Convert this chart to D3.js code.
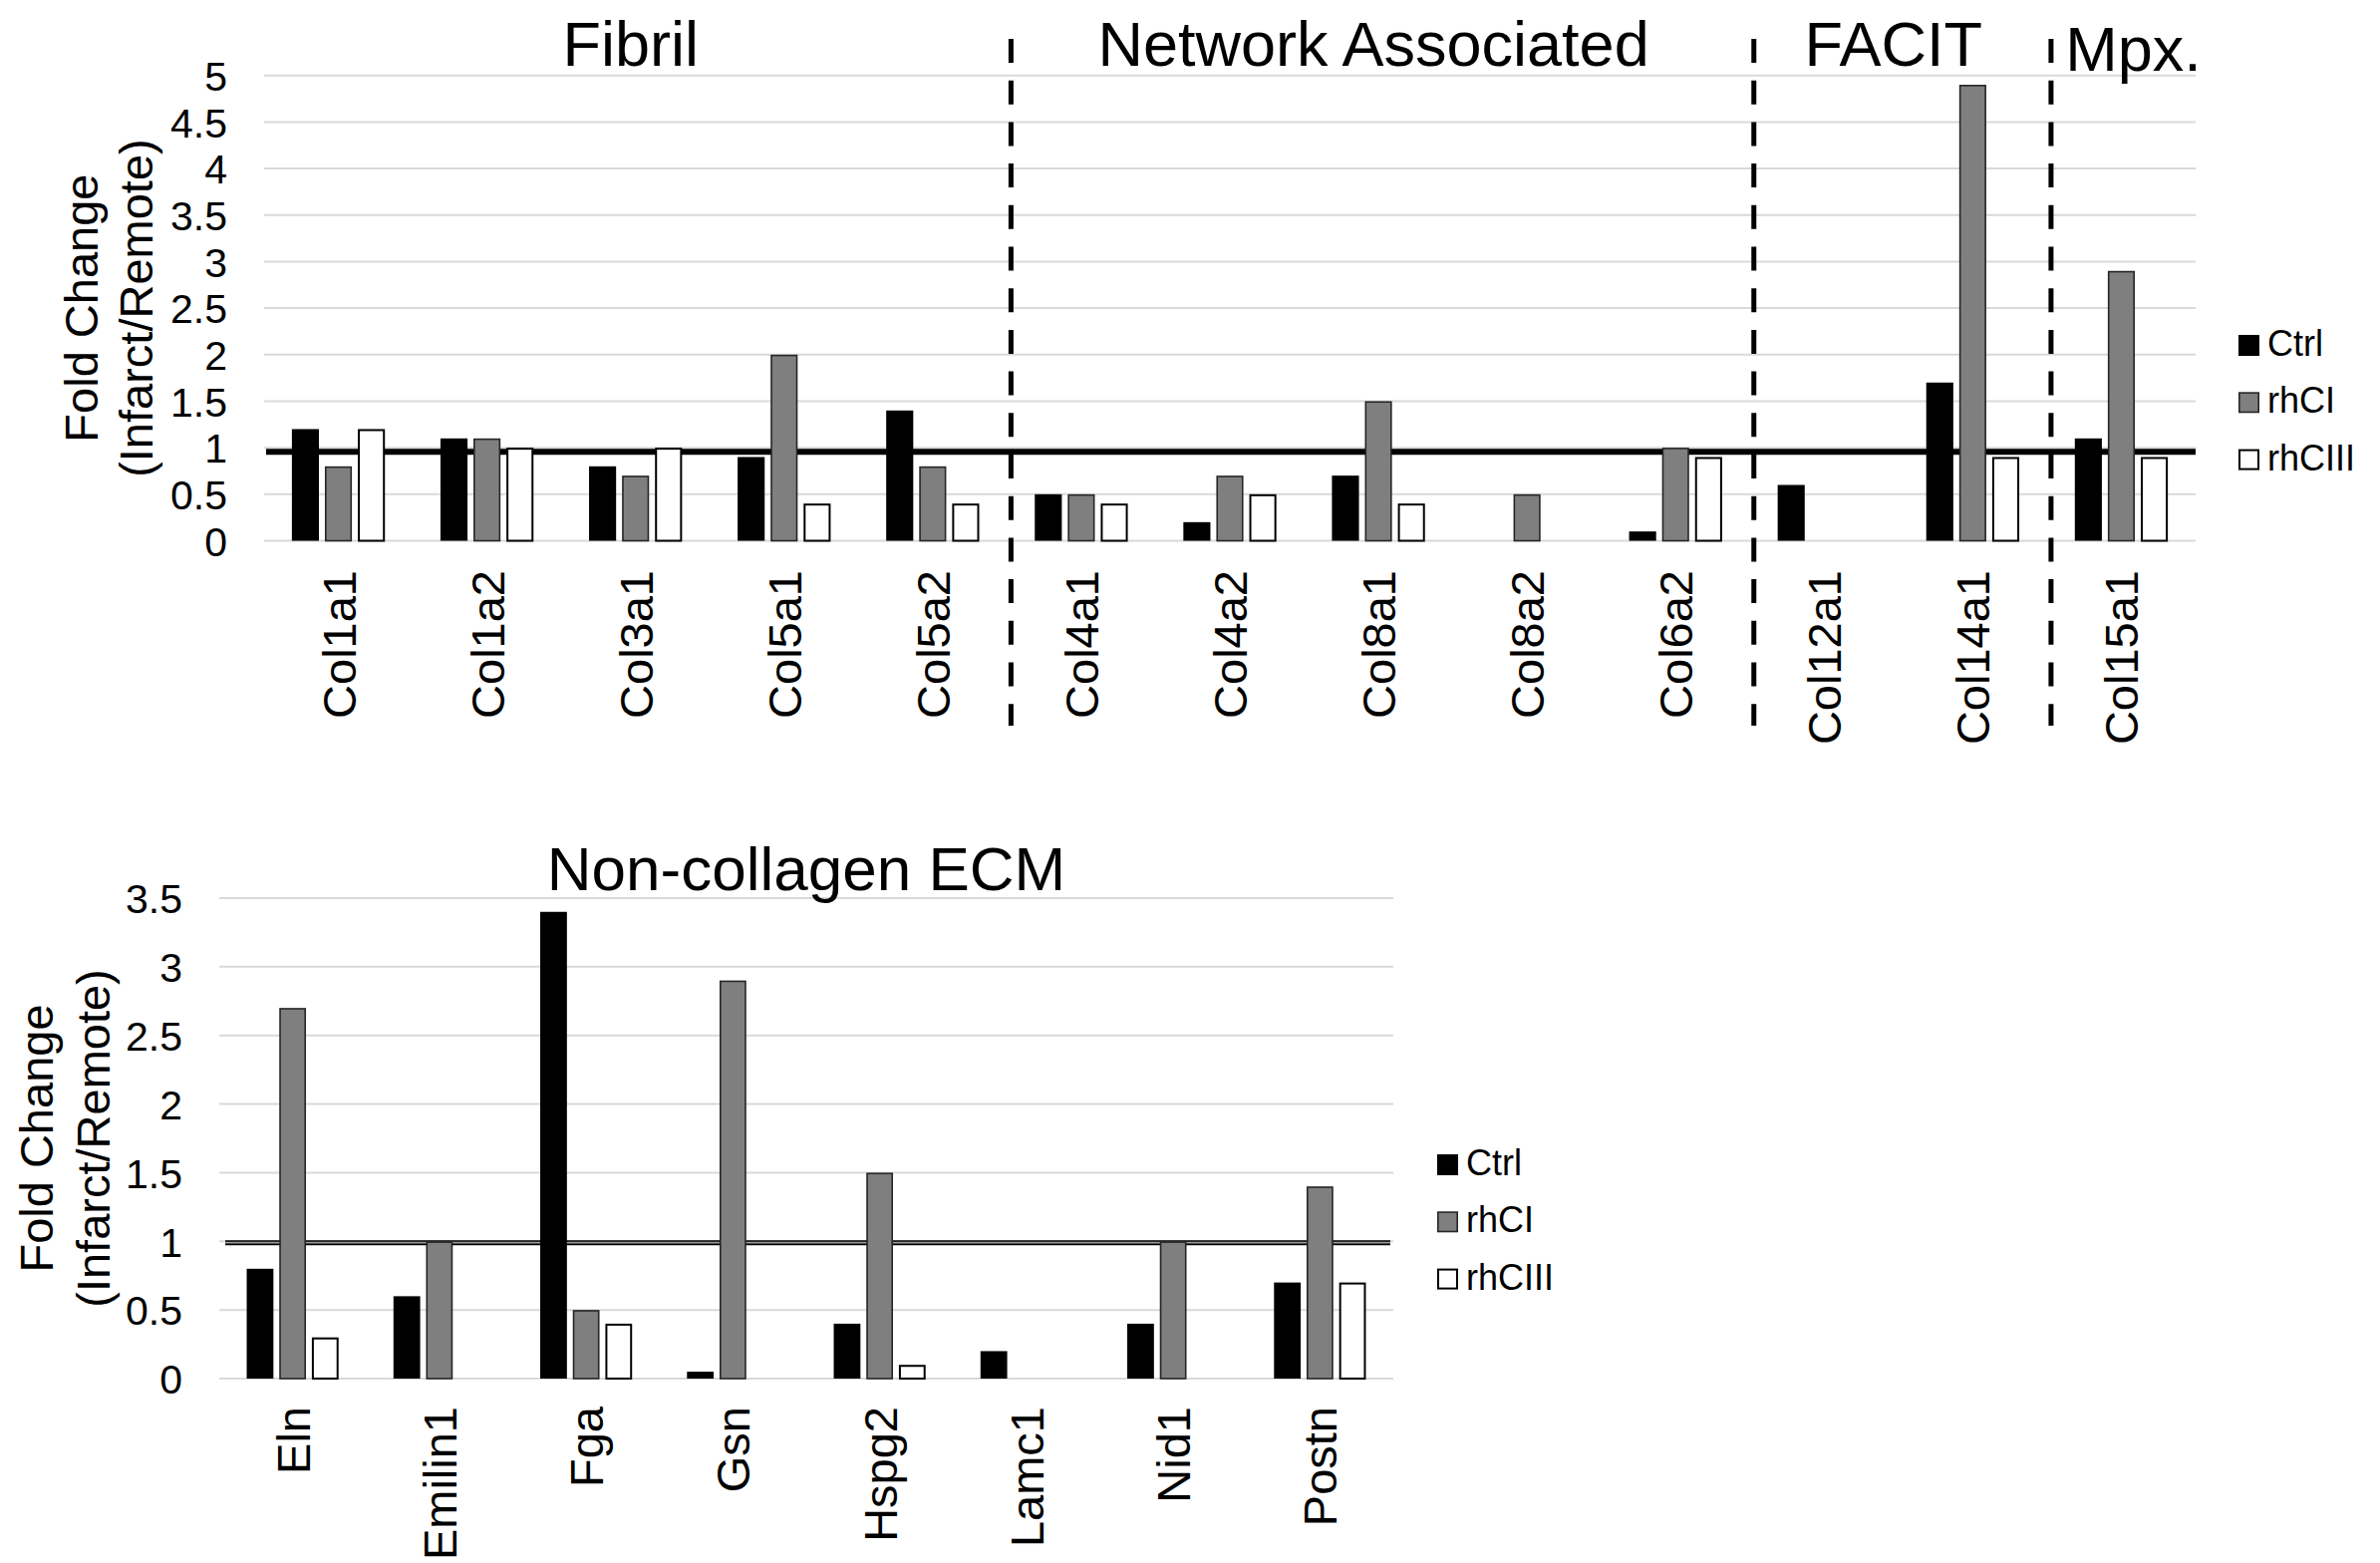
<!DOCTYPE html>
<html>
<head>
<meta charset="utf-8">
<script src="https://cdn.jsdelivr.net/npm/d3@7"></script>
<style>
  html, body { margin: 0; padding: 0; background: #fff; }
  svg { display: block; font-family: "Liberation Sans", Arial, sans-serif; }
</style>
</head>
<body>
<svg id="chart" width="2388" height="1568"></svg>
<script>
// ---- Collagen genes (upper panel) ----
const collagenGenes = ["Col1a1", "Col1a2", "Col3a1", "Col5a1", "Col5a2",
  "Col4a1", "Col4a2", "Col8a1", "Col8a2", "Col6a2",
  "Col12a1", "Col14a1", "Col15a1"];
const collagenCtrl  = [1.2, 1.1, 0.8, 0.9, 1.4, 0.5, 0.2, 0.7, null, 0.1, 0.6, 1.7, 1.1];
const collagenRhCI  = [0.8, 1.1, 0.7, 2.0, 0.8, 0.5, 0.7, 1.5, 0.5, 1.0, null, 4.9, 2.9];
const collagenRhCIII = [1.2, 1.0, 1.0, 0.4, 0.4, 0.4, 0.5, 0.4, null, 0.9, null, 0.9, 0.9];

// collagen families: title and the genes belonging to each
const familyNames = ["Fibril", "Network Associated", "FACIT", "Mpx."];
const familyFirstGene = ["Col1a1", "Col4a1", "Col12a1", "Col15a1"];
const familyLastGene  = ["Col5a2", "Col6a2", "Col14a1", "Col15a1"];

const collagenTicks = [0, 0.5, 1, 1.5, 2, 2.5, 3, 3.5, 4, 4.5, 5];
const collagenTickLabels = ["0", "0.5", "1", "1.5", "2", "2.5", "3", "3.5", "4", "4.5", "5"];
const collagenRefLevel = 0.955;

// ---- Non-collagen ECM genes (lower panel) ----
const ecmGenes = ["Eln", "Emilin1", "Fga", "Gsn", "Hspg2", "Lamc1", "Nid1", "Postn"];
const ecmCtrl   = [0.8, 0.6, 3.4, 0.05, 0.4, 0.2, 0.4, 0.7];
const ecmRhCI   = [2.7, 1.0, 0.5, 2.9, 1.5, null, 1.0, 1.4];
const ecmRhCIII = [0.3, null, 0.4, null, 0.1, null, null, 0.7];

const ecmTicks = [0, 0.5, 1, 1.5, 2, 2.5, 3, 3.5];
const ecmTickLabels = ["0", "0.5", "1", "1.5", "2", "2.5", "3", "3.5"];
const ecmRefLevel = 0.99;

const seriesNames = ["Ctrl", "rhCI", "rhCIII"];
const seriesFill   = ["#000000", "#7f7f7f", "#ffffff"];
const seriesStroke = ["none", "#262626", "#000000"];
const seriesStrokeW = [0, 1.6, 2];

const yTitleLines = ["Fold Change", "(Infarct/Remote)"];

const svg = d3.select("#chart");
svg.append("rect").attr("width", 2388).attr("height", 1568).attr("fill", "#fff");

function drawPanel(cfg) {
  const g = svg.append("g");
  const x = d3.scaleBand().domain(cfg.genes).range([cfg.left, cfg.right]).padding(0);
  const y = d3.scaleLinear().domain(cfg.domain).range([cfg.bottom, cfg.top]);

  const step = x.bandwidth();
  const pitch = step * 0.222, barW = step * 0.182;
  const inner = d3.scaleBand().domain(seriesNames)
    .range([-(2 * pitch + barW) / 2, (2 * pitch + barW) / 2])
    .paddingInner(1 - barW / pitch).paddingOuter(0);

  // horizontal gridlines
  g.append("g").selectAll("line").data(cfg.ticks).join("line")
    .attr("x1", cfg.left).attr("x2", cfg.right)
    .attr("y1", d => y(d)).attr("y2", d => y(d))
    .attr("stroke", "#d9d9d9").attr("stroke-width", 2);

  // value axis labels
  const axis = d3.axisLeft(y).tickValues(cfg.ticks)
    .tickFormat((d, i) => cfg.tickLabels[i]).tickSize(0).tickPadding(37);
  const ax = g.append("g").attr("transform", `translate(${cfg.left},0)`).call(axis);
  ax.select(".domain").remove();
  ax.selectAll("text").attr("font-size", 41).attr("fill", "#000")
    .attr("font-family", "Liberation Sans, Arial, sans-serif").attr("dy", "0.36em");

  // reference line for unchanged expression
  if (cfg.doubleRef) {
    g.append("line").attr("x1", cfg.left + 6).attr("x2", cfg.right - 3)
      .attr("y1", y(cfg.ref)).attr("y2", y(cfg.ref))
      .attr("stroke", "#000").attr("stroke-width", 5);
    g.append("line").attr("x1", cfg.left + 6).attr("x2", cfg.right - 3)
      .attr("y1", y(cfg.ref)).attr("y2", y(cfg.ref))
      .attr("stroke", "#9a9a9a").attr("stroke-width", 1.6);
  } else {
    g.append("line").attr("x1", cfg.left + 2).attr("x2", cfg.right)
      .attr("y1", y(cfg.ref)).attr("y2", y(cfg.ref))
      .attr("stroke", "#000").attr("stroke-width", 6);
  }

  // bars
  cfg.series.forEach((vals, si) => {
    const sw = seriesStrokeW[si];
    g.append("g").selectAll("rect")
      .data(cfg.genes.map((gene, i) => ({ gene, v: vals[i] })).filter(d => d.v != null))
      .join("rect")
      .attr("x", d => x(d.gene) + step / 2 + inner(seriesNames[si]) + sw / 2)
      .attr("width", barW - sw)
      .attr("y", d => y(d.v) + sw / 2)
      .attr("height", d => Math.max(0, y(0) - y(d.v) - sw / 2))
      .attr("fill", seriesFill[si])
      .attr("stroke", seriesStroke[si])
      .attr("stroke-width", sw);
  });

  // category labels, rotated
  g.append("g").selectAll("text").data(cfg.genes).join("text")
    .attr("transform", d => `translate(${x(d) + step / 2 + 17},${cfg.labelY}) rotate(-90)`)
    .attr("text-anchor", "end")
    .attr("font-size", 47).attr("fill", "#000")
    .text(d => d);

  // value axis title
  const cy = (cfg.top + cfg.bottom) / 2;
  yTitleLines.forEach((t, i) => {
    g.append("text")
      .attr("transform", `translate(${cfg.titleX[i]},${cy}) rotate(-90)`)
      .attr("text-anchor", "middle").attr("font-size", 47).attr("fill", "#000")
      .text(t);
  });

  // legend
  seriesNames.forEach((s, i) => {
    const ly = cfg.legendY + i * 57.3;
    const sw = seriesStrokeW[i];
    g.append("rect")
      .attr("x", cfg.legendX + sw / 2).attr("y", ly + sw / 2)
      .attr("width", 21 - sw).attr("height", 21 - sw)
      .attr("fill", seriesFill[i]).attr("stroke", seriesStroke[i]).attr("stroke-width", sw);
    g.append("text").attr("x", cfg.legendX + 29).attr("y", ly + 21)
      .attr("font-size", 36).attr("fill", "#000").text(s);
  });

  return { x, y, g };
}

// ---- upper panel ----
const upper = drawPanel({
  genes: collagenGenes, series: [collagenCtrl, collagenRhCI, collagenRhCIII],
  domain: [0, 5], ticks: collagenTicks, tickLabels: collagenTickLabels,
  left: 265, right: 2203, top: 75.7, bottom: 542.5, ref: collagenRefLevel,
  doubleRef: false, labelY: 572, titleX: [98, 153],
  legendX: 2246, legendY: 336
});

// family dividers and titles
const xu = upper.x;
familyFirstGene.slice(1).forEach(gene => {
  upper.g.append("line")
    .attr("x1", xu(gene) + 4).attr("x2", xu(gene) + 4)
    .attr("y1", 39).attr("y2", 728)
    .attr("stroke", "#000").attr("stroke-width", 5)
    .attr("stroke-dasharray", "24 17.7");
});
familyNames.forEach((name, i) => {
  const a = xu(familyFirstGene[i]);
  const b = xu(familyLastGene[i]) + xu.bandwidth();
  upper.g.append("text")
    .attr("x", (a + b) / 2 + (name === "Mpx." ? 12 : -5))
    .attr("y", name === "Mpx." ? 71 : 66)
    .attr("text-anchor", "middle").attr("font-size", 63).attr("fill", "#000")
    .text(name);
});

// ---- lower panel ----
const lower = drawPanel({
  genes: ecmGenes, series: [ecmCtrl, ecmRhCI, ecmRhCIII],
  domain: [0, 3.5], ticks: ecmTicks, tickLabels: ecmTickLabels,
  left: 220, right: 1398, top: 901, bottom: 1383, ref: ecmRefLevel,
  doubleRef: true, labelY: 1411, titleX: [53, 110],
  legendX: 1442, legendY: 1158
});
lower.g.append("text")
  .attr("x", (220 + 1398) / 2).attr("y", 893)
  .attr("text-anchor", "middle").attr("font-size", 62).attr("fill", "#000")
  .text("Non-collagen ECM");
</script>
</body>
</html>
